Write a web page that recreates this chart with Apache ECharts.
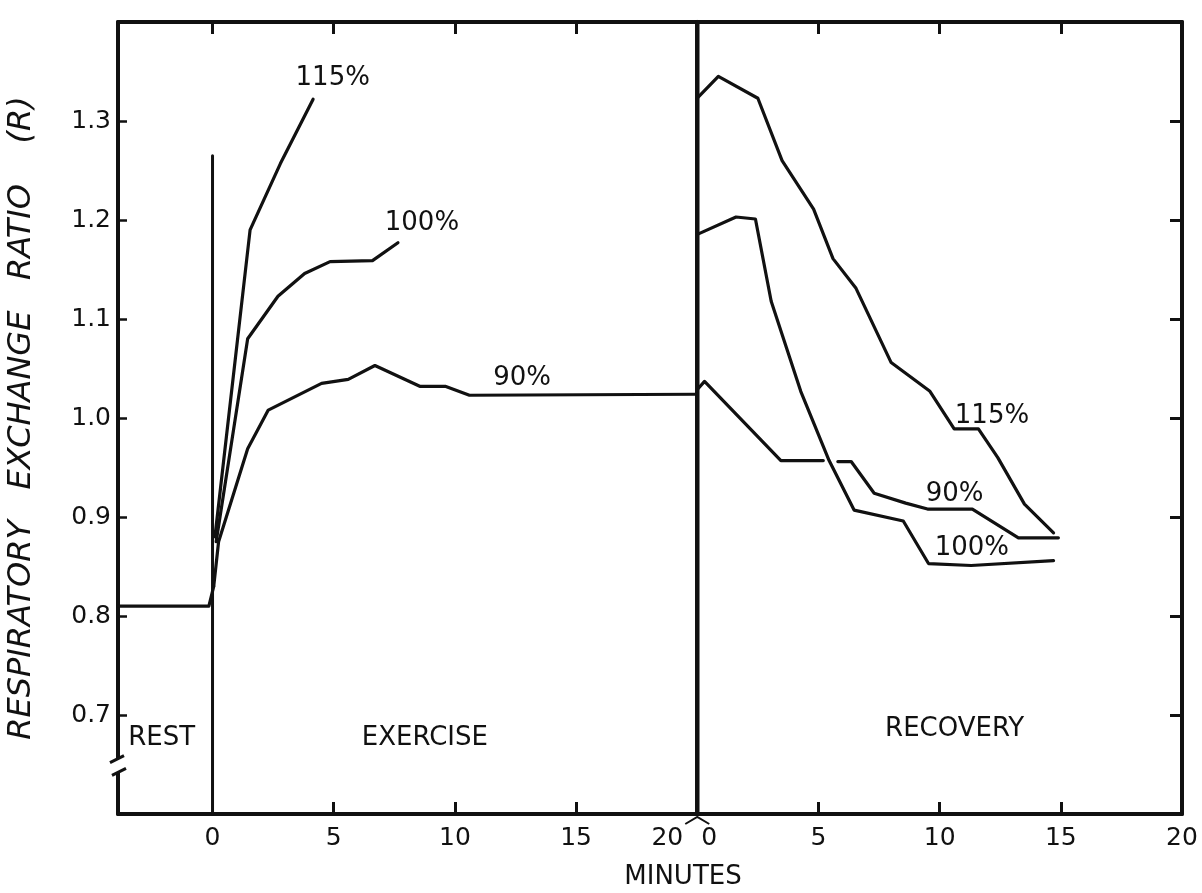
<!DOCTYPE html>
<html><head><meta charset="utf-8">
<script src="https://cdn.jsdelivr.net/npm/echarts@6/dist/echarts.min.js"></script>
<style>html,body{margin:0;padding:0;background:#fff}#c{width:1202px;height:893px}</style>
</head><body><div id="c"></div>
<script>
// ---- data (minutes, R) ----
const restT = [-3.9, -0.15, 0.05];
const restR = [0.81, 0.81, 0.83];

const ex115T = [0.1, 1.55, 2.8, 4.15];
const ex115R = [0.88, 1.19, 1.257, 1.322];
const ex100T = [0.15, 1.45, 2.7, 3.8, 4.85, 6.6, 7.65];
const ex100R = [0.875, 1.08, 1.123, 1.146, 1.158, 1.159, 1.177];
const ex90T = [0.05, 0.25, 1.45, 2.3, 4.5, 5.6, 6.7, 8.55, 9.6, 10.6, 20];
const ex90R = [0.83, 0.875, 0.969, 1.008, 1.035, 1.039, 1.053, 1.032, 1.032, 1.023, 1.024];

// recovery minutes (plotted after the 20-min exercise period)
const recOffset = 20;
const rec115T = [0, 0.87, 2.5, 3.5, 4.8, 5.6, 6.55, 8.0, 9.6, 10.6, 11.6, 12.4, 13.5, 14.7];
const rec115R = [1.323, 1.345, 1.323, 1.26, 1.211, 1.161, 1.131, 1.056, 1.027, 0.989, 0.989, 0.96, 0.913, 0.884];
const rec100T = [0.05, 1.6, 2.4, 3.05, 4.27, 5.44, 6.47, 8.5, 9.54, 11.3, 14.7];
const rec100R = [1.186, 1.203, 1.201, 1.118, 1.027, 0.957, 0.907, 0.896, 0.853, 0.851, 0.856];
const rec90T = [0.05, 0.3, 3.45, 5.2, 5.5, 5.8, 6.35, 7.3, 8.6, 9.5, 11.35, 13.25, 14.9];
const rec90R = [1.03, 1.037, 0.957, 0.957, null, 0.956, 0.956, 0.924, 0.914, 0.908, 0.908, 0.879, 0.879];

// phase dividers
const startDividerT = [0, 0];
const startDividerR = [0.6, 1.265];
const recDividerT = [20, 20];
const recDividerR = [0.6, 1.4];

// ticks / labels
const exerciseTicks = [0, 5, 10, 15, 20];
const recoveryTicks = [0, 5, 10, 15, 20];
const yTicks = [0.7, 0.8, 0.9, 1.0, 1.1, 1.2, 1.3];

// annotations
const annoText = ['115%', '100%', '90%', '115%', '90%', '100%', 'REST', 'EXERCISE', 'RECOVERY'];
const annoX = [4.96, 8.64, 12.77, 32.16, 30.62, 31.33, -2.1, 8.76, 30.62];
const annoY = [1.343, 1.197, 1.04, 1.002, 0.923, 0.868, 0.677, 0.677, 0.686];

// ---- build ----
const FONT = 'DejaVu Sans';
const INK = '#111';
const zip = (t, r, off) => t.map((v, i) => [v + (off || 0), r[i] === null ? '-' : r[i]]);
const recPos = recoveryTicks.map(v => v + recOffset);
const labelVals = Array.from(new Set(exerciseTicks.concat(recPos)));

function line(name, data, w) {
  return { name, type: 'line', data, showSymbol: false, symbol: 'none',
    lineStyle: { color: INK, width: w || 3.2, join: 'round', cap: 'round' },
    connectNulls: false, silent: true, animation: false, z: 3 };
}

const chart = echarts.init(document.getElementById('c'), null, { renderer: 'canvas' });
const option = {
  backgroundColor: '#fff',
  animation: false,
  grid: { left: 118, right: 20, top: 22, bottom: 79, containLabel: false, outerBoundsMode: 'none' },
  xAxis: [{
    type: 'value', min: -3.9, max: 40, position: 'bottom',
    name: 'MINUTES', nameLocation: 'middle', nameGap: 50,
    nameTextStyle: { fontFamily: FONT, fontSize: 26, color: INK, padding: [0, 0, 0, 66] },
    axisLine: { show: true, onZero: false, lineStyle: { color: INK, width: 4 } },
    axisTick: { show: true, inside: true, length: 12, lineStyle: { color: INK, width: 3 },
      customValues: [5, 10, 15, 25, 30, 35] },
    axisLabel: { show: true, customValues: labelVals, margin: 12, color: INK,
      fontFamily: FONT, fontSize: 25,
      formatter: v => Math.abs(v - recOffset) < 1e-6 ? '{a|' + exerciseTicks[4] + '}{b|' + recoveryTicks[0] + '}'
        : (v < recOffset ? String(v) : String(v - recOffset)),
      rich: {
        a: { fontFamily: FONT, fontSize: 25, color: INK },
        b: { fontFamily: FONT, fontSize: 25, color: INK, padding: [0, 26, 0, 18] }
      } },
    splitLine: { show: false }
  }, {
    type: 'value', min: -3.9, max: 40, position: 'top',
    axisLine: { show: true, onZero: false, lineStyle: { color: INK, width: 4 } },
    axisTick: { show: true, inside: true, length: 12, lineStyle: { color: INK, width: 3 },
      customValues: [0, 5, 10, 15, 25, 30, 35] },
    axisLabel: { show: false },
    splitLine: { show: false }
  }],
  yAxis: [{
    type: 'value', min: 0.6, max: 1.4, position: 'left',
    name: 'RESPIRATORY   EXCHANGE   RATIO    (R)', nameLocation: 'middle', nameGap: 80, nameRotate: 90,
    nameTextStyle: { fontFamily: FONT, fontSize: 32, fontStyle: 'italic', color: INK },
    axisLine: { show: true, onZero: false, lineStyle: { color: INK, width: 4 } },
    axisTick: { show: true, inside: true, length: 9, lineStyle: { color: INK, width: 2.5 }, customValues: yTicks },
    axisLabel: { show: true, customValues: yTicks, margin: 7, color: INK, fontFamily: FONT, fontSize: 25,
      formatter: v => v.toFixed(1) },
    splitLine: { show: false }
  }, {
    type: 'value', min: 0.6, max: 1.4, position: 'right',
    axisLine: { show: true, onZero: false, lineStyle: { color: INK, width: 4 } },
    axisTick: { show: true, inside: true, length: 12, lineStyle: { color: INK, width: 3 }, customValues: yTicks },
    axisLabel: { show: false },
    splitLine: { show: false }
  }],
  series: [
    line('rest', zip(restT, restR)),
    line('start', zip(startDividerT, startDividerR), 3),
    line('recoveryStart', zip(recDividerT, recDividerR), 4.5),
    line('115% exercise', zip(ex115T, ex115R)),
    line('100% exercise', zip(ex100T, ex100R)),
    line('90% exercise', zip(ex90T, ex90R)),
    line('115% recovery', zip(rec115T, rec115R, recOffset)),
    line('100% recovery', zip(rec100T, rec100R, recOffset)),
    line('90% recovery', zip(rec90T, rec90R, recOffset)),
    {
      name: 'labels', type: 'scatter', symbolSize: 0, silent: true, animation: false, z: 5,
      itemStyle: { opacity: 1, color: INK },
      data: annoText.map((t, i) => ({ value: [annoX[i], annoY[i]], name: t })),
      label: { show: true, position: 'inside', formatter: p => p.name, opacity: 1,
        fontFamily: FONT, fontSize: 26, color: INK }
    }
  ]
};
chart.setOption(option);

// axis-break marks
const p1 = chart.convertToPixel({ xAxisIndex: 0, yAxisIndex: 0 }, [-3.9, 0.656]);
const p2 = chart.convertToPixel({ xAxisIndex: 0, yAxisIndex: 0 }, [-3.9, 0.642]);
const q = chart.convertToPixel({ xAxisIndex: 0, yAxisIndex: 0 }, [recOffset, 0.6]);
chart.setOption({
  graphic: [
    { type: 'rect', shape: { x: p1[0] - 4, y: p1[1], width: 8, height: p2[1] - p1[1] }, style: { fill: '#fff' }, z: 100 },
    { type: 'line', shape: { x1: p1[0] - 8, y1: p1[1] + 4, x2: p1[0] + 6, y2: p1[1] - 3 }, style: { stroke: INK, lineWidth: 3 }, z: 101 },
    { type: 'line', shape: { x1: p2[0] - 6, y1: p2[1] + 3, x2: p2[0] + 8, y2: p2[1] - 4 }, style: { stroke: INK, lineWidth: 3 }, z: 101 },
    { type: 'polyline', shape: { points: [[q[0] - 12, q[1] + 10], [q[0], q[1] + 3], [q[0] + 12, q[1] + 10]] },
      style: { stroke: INK, lineWidth: 2, fill: null }, z: 101 }
  ]
});
</script></body></html>
